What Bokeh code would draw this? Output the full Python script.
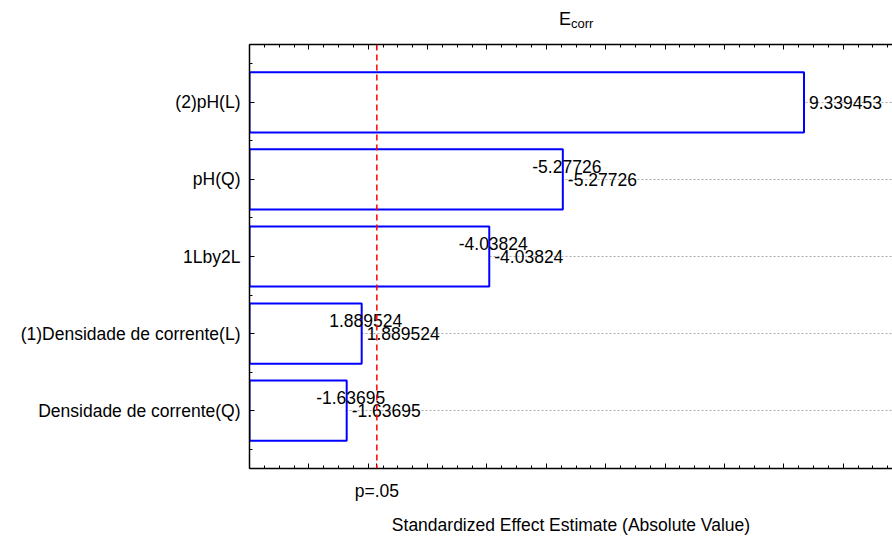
from bokeh.plotting import figure
from bokeh.models import (ColumnDataSource, FixedTicker, LinearAxis, Span, Div,
                          CustomJSTickFormatter, Range1d)
from bokeh.layouts import column
from bokeh.core.properties import value
from bokeh.embed import file_html
from bokeh.resources import INLINE

# ---- data ----
categories = ["(2)pH(L)", "pH(Q)", "1Lby2L", "(1)Densidade de corrente(L)", "Densidade de corrente(Q)"]
effects = [9.339453, -5.27726, -4.03824, 1.889524, -1.63695]
effect_labels = ["9.339453", "-5.27726", "-4.03824", "1.889524", "-1.63695"]
p_crit = 2.1448
p_label = "p=.05"
title_main = "E"
title_sub = "corr"
x_title = "Standardized Effect Estimate (Absolute Value)"

FONT = "Liberation Sans"
FS = "17.5px"
n = len(categories)
ypos = [n - 1 - i for i in range(n)]
absvals = [abs(v) for v in effects]

src = ColumnDataSource(dict(y=ypos, right=absvals, lab=effect_labels, cat=categories))
src_up = ColumnDataSource(dict(y=ypos[1:], right=absvals[1:], lab=effect_labels[1:]))

p = figure(width=892, height=508, output_backend="svg", toolbar_location=None,
           x_range=Range1d(0, 10.83), y_range=Range1d(-0.75, n - 0.25),
           min_border_left=249, min_border_right=0, min_border_top=14, min_border_bottom=70,
           x_axis_location=None, y_axis_location=None, margin=0)
p.outline_line_color = None
p.background_fill_color = "white"
p.border_fill_color = "white"

p.hbar(y="y", left=0, right="right", height=0.78, source=src,
       fill_color="white", line_color="#0000ff", line_width=2)

p.add_layout(Span(location=p_crit, dimension="height", line_color="#ff0000",
                  line_dash="6 4", line_width=1.5))

p.text(x="right", y="y", text="lab", source=src, x_offset=5, text_align="left",
       text_baseline="middle", text_font=value(FONT), text_font_size=FS, text_color="black")
p.text(x="right", y="y", text="lab", source=src_up, x_offset=4, y_offset=-13, text_align="center",
       text_baseline="middle", text_font=value(FONT), text_font_size=FS, text_color="black")

xmaj = list(range(0, 11)) + [p_crit]
xmin = [i * 0.25 for i in range(0, 44)]

def style_x(ax, labels):
    ax.ticker = FixedTicker(ticks=xmaj, minor_ticks=xmin)
    ax.major_tick_in = 5
    ax.major_tick_out = 0
    ax.minor_tick_in = 3
    ax.minor_tick_out = 0
    ax.axis_line_width = 1.5
    ax.axis_line_color = "black"
    ax.major_tick_line_color = "black"
    ax.minor_tick_line_color = "black"
    ax.formatter = CustomJSTickFormatter(args=dict(pc=p_crit, pl=p_label),
                                         code="return Math.abs(tick - pc) < 1e-6 ? pl : '';")
    if labels:
        ax.major_label_text_font = FONT
        ax.major_label_text_font_size = FS
        ax.major_label_text_color = "black"
        ax.major_label_standoff = 12
        ax.axis_label = x_title
        ax.axis_label_text_font = FONT
        ax.axis_label_text_font_size = FS
        ax.axis_label_text_color = "black"
        ax.axis_label_text_font_style = "normal"
        ax.axis_label_standoff = 11
    else:
        ax.major_label_text_alpha = 0
        ax.major_label_text_font_size = "1px"
        ax.major_label_standoff = 0

xb = LinearAxis()
style_x(xb, True)
p.add_layout(xb, "below")
xt = LinearAxis()
style_x(xt, False)
p.add_layout(xt, "above")

ya = LinearAxis()
ya.ticker = FixedTicker(ticks=ypos, minor_ticks=[k - 0.5 for k in range(n + 1)])
ya.major_label_overrides = {ypos[i]: categories[i] for i in range(n)}
ya.major_label_text_font = FONT
ya.major_label_text_font_size = FS
ya.major_label_text_color = "black"
ya.major_tick_in = 5
ya.major_tick_out = 0
ya.minor_tick_in = 3
ya.minor_tick_out = 0
ya.major_label_standoff = 9
ya.axis_line_width = 1.5
p.add_layout(ya, "left")

p.xgrid.visible = False
p.ygrid.ticker = FixedTicker(ticks=ypos)
p.ygrid.grid_line_color = "#aaaaaa"
p.ygrid.grid_line_dash = "2 2"
p.ygrid.grid_line_width = 1

title_html = (
    '<div style="position:absolute; left:559px; top:10px; white-space:nowrap; '
    'font-family:\'Liberation Sans\'; color:black; line-height:18px;">'
    '<span style="font-size:18px;">' + title_main + '</span>'
    '<span style="font-size:13px; position:relative; top:3px;">' + title_sub + '</span>'
    '</div>'
)
title_div = Div(text=title_html, width=892, height=30, margin=0,
                styles={"position": "relative"})

layout = column(title_div, p, spacing=0, margin=0)
open("out.html", "w").write(file_html(layout, INLINE))
